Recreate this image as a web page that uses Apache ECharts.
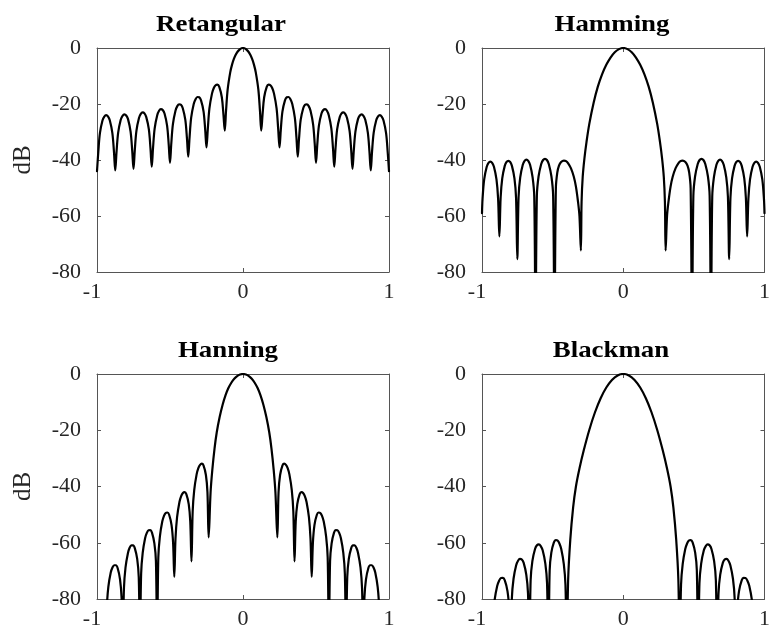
<!DOCTYPE html>
<html>
<head>
<meta charset="utf-8">
<script src="https://cdn.jsdelivr.net/npm/echarts@6/dist/echarts.min.js"></script>
<style>
html,body{margin:0;padding:0;background:#fff;}
#chart{width:773px;height:634px;}
</style>
</head>
<body>
<div id="chart"></div>
<script>
// ---------- data (normalized frequency, dB) ----------
const titles = ['Retangular', 'Hamming', 'Hanning', 'Blackman'];

const rectX = [
-1, -0.99125, -0.98, -0.9625, -0.95, -0.9375, -0.925, -0.9125, -0.895, -0.88375,
-0.875, -0.86625, -0.855, -0.8375, -0.825, -0.8125, -0.8, -0.7875, -0.77, -0.75875,
-0.75, -0.74125, -0.73, -0.7125, -0.7, -0.6875, -0.675, -0.6625, -0.645, -0.63375,
-0.625, -0.61625, -0.605, -0.5875, -0.575, -0.5625, -0.55, -0.5375, -0.52, -0.50875,
-0.5, -0.49125, -0.48, -0.4625, -0.45, -0.4375, -0.425, -0.4125, -0.395, -0.38375,
-0.375, -0.36625, -0.355, -0.3375, -0.325, -0.3125, -0.3, -0.2875, -0.27, -0.25875,
-0.25, -0.24125, -0.23, -0.2125, -0.2, -0.1875, -0.175, -0.1625, -0.145, -0.13375,
-0.125, -0.11625, -0.105, -0.0875, -0.075, -0.0625, -0.05, -0.0375, -0.02, -0.00875,
0,
0.00875, 0.02, 0.0375, 0.05, 0.0625, 0.075, 0.0875, 0.105, 0.11625,
0.125, 0.13375, 0.145, 0.1625, 0.175, 0.1875, 0.2, 0.2125, 0.23, 0.24125,
0.25, 0.25875, 0.27, 0.2875, 0.3, 0.3125, 0.325, 0.3375, 0.355, 0.36625,
0.375, 0.38375, 0.395, 0.4125, 0.425, 0.4375, 0.45, 0.4625, 0.48, 0.49125,
0.5, 0.50875, 0.52, 0.5375, 0.55, 0.5625, 0.575, 0.5875, 0.605, 0.61625,
0.625, 0.63375, 0.645, 0.6625, 0.675, 0.6875, 0.7, 0.7125, 0.73, 0.74125,
0.75, 0.75875, 0.77, 0.7875, 0.8, 0.8125, 0.825, 0.8375, 0.855, 0.86625,
0.875, 0.88375, 0.895, 0.9125, 0.925, 0.9375, 0.95, 0.9625, 0.98, 0.99125,
1];
const rectDb = [
-44.0, -37.3, -30.4, -25.9, -24.5, -24.0, -24.4, -25.8, -30.3, -37.1,
-43.7, -37.1, -30.2, -25.6, -24.2, -23.7, -24.1, -25.4, -29.9, -36.7,
-43.2, -36.6, -29.6, -25.0, -23.5, -23.0, -23.35, -24.7, -29.0, -35.8,
-42.4, -35.7, -28.7, -24.0, -22.4, -21.85, -22.15, -23.4, -27.7, -34.5,
-41.0, -34.2, -27.2, -22.4, -20.75, -20.1, -20.3, -21.5, -25.7, -32.4,
-38.8, -32.1, -24.9, -20.0, -18.3, -17.5, -17.6, -18.7, -22.7, -29.3,
-35.5, -29.1, -21.6, -16.3, -14.3, -13.3, -13.1, -13.9, -17.6, -23.9,
-29.5, -22.5, -14.8, -8.69, -5.94, -3.92, -2.42, -1.33, -0.37, -0.07,
0,
-0.07, -0.37, -1.33, -2.42, -3.92, -5.94, -8.69, -14.8, -22.5,
-29.5, -23.9, -17.6, -13.9, -13.1, -13.3, -14.3, -16.3, -21.6, -29.1,
-35.5, -29.3, -22.7, -18.7, -17.6, -17.5, -18.3, -20.0, -24.9, -32.1,
-38.8, -32.4, -25.7, -21.5, -20.3, -20.1, -20.75, -22.4, -27.2, -34.2,
-41.0, -34.5, -27.7, -23.4, -22.15, -21.85, -22.4, -24.0, -28.7, -35.7,
-42.4, -35.8, -29.0, -24.7, -23.35, -23.0, -23.5, -25.0, -29.6, -36.6,
-43.2, -36.7, -29.9, -25.4, -24.1, -23.7, -24.2, -25.6, -30.2, -37.1,
-43.7, -37.1, -30.3, -25.8, -24.4, -24.0, -24.5, -25.9, -30.4, -37.3,
-44.0];

const hammingX = [
-1, -0.996, -0.9845, -0.9666, -0.9538, -0.941, -0.9282, -0.9154, -0.8975, -0.886,
-0.877, -0.8681, -0.8567, -0.8389, -0.8262, -0.8135, -0.8008, -0.7881, -0.7703, -0.7589,
-0.75, -0.741, -0.7294, -0.7113, -0.6984, -0.6855, -0.6726, -0.6597, -0.6417, -0.63,
-0.621, -0.6116, -0.5996, -0.5808, -0.5674, -0.554, -0.5406, -0.5272, -0.5084, -0.4964,
-0.487, -0.477, -0.467, -0.455, -0.44, -0.42, -0.405, -0.39, -0.37, -0.35, -0.335, -0.32, -0.31,
-0.3, -0.295, -0.287, -0.275, -0.26, -0.24, -0.21, -0.18, -0.15, -0.12, -0.09, -0.06, -0.03,
0,
0.03, 0.06, 0.09, 0.12, 0.15, 0.18, 0.21, 0.24, 0.26, 0.275, 0.287, 0.295, 0.3,
0.31, 0.32, 0.335, 0.35, 0.37, 0.39, 0.405, 0.42, 0.44, 0.455, 0.467, 0.477, 0.487,
0.4964, 0.5084, 0.5272, 0.5406, 0.554, 0.5674, 0.5808, 0.5996, 0.6116, 0.621,
0.63, 0.6417, 0.6597, 0.6726, 0.6855, 0.6984, 0.7113, 0.7294, 0.741, 0.75,
0.7589, 0.7703, 0.7881, 0.8008, 0.8135, 0.8262, 0.8389, 0.8567, 0.8681, 0.877,
0.886, 0.8975, 0.9154, 0.9282, 0.941, 0.9538, 0.9666, 0.9845, 0.996, 1];
const hammingDb = [
-59, -53.8, -46.9, -42.4, -41.0, -40.6, -41.0, -42.4, -46.9, -53.8,
-67.3, -53.5, -46.6, -42.1, -40.7, -40.3, -40.7, -42.1, -46.6, -53.5,
-75.4, -53.1, -46.2, -41.7, -40.3, -39.9, -40.3, -41.7, -46.2, -53.1,
-100, -52.8, -45.9, -41.4, -40.0, -39.6, -40.0, -41.4, -45.9, -52.8,
-100, -50, -44.5, -42.0, -40.7, -40.2, -40.4, -41.2, -43, -46, -49.5, -55, -60,
-72.3, -55, -46, -39.5, -33.5, -27.0, -19.6, -13.8, -9.4, -6.0, -3.4, -1.5, -0.4,
0,
-0.4, -1.5, -3.4, -6.0, -9.4, -13.8, -19.6, -27.0, -33.5, -39.5, -46, -55, -72.3,
-60, -55, -49.5, -46, -43, -41.2, -40.4, -40.2, -40.7, -42.0, -44.5, -50, -100,
-52.8, -45.9, -41.4, -40.0, -39.6, -40.0, -41.4, -45.9, -52.8, -100,
-53.1, -46.2, -41.7, -40.3, -39.9, -40.3, -41.7, -46.2, -53.1, -75.4,
-53.5, -46.6, -42.1, -40.7, -40.3, -40.7, -42.1, -46.6, -53.5, -67.3,
-53.8, -46.9, -42.4, -41.0, -40.6, -41.0, -42.4, -46.9, -53.8, -59];

const hanningX = [
-1, -0.9412,
-0.9329, -0.9223, -0.9059, -0.8941, -0.8823, -0.8706, -0.8588, -0.8423, -0.8317, -0.8235,
-0.8153, -0.8047, -0.7883, -0.7765, -0.7647, -0.753, -0.7412, -0.7247, -0.7141, -0.7059,
-0.6976, -0.687, -0.6706, -0.6588, -0.647, -0.6353, -0.6235, -0.607, -0.5964, -0.5882,
-0.58, -0.5694, -0.553, -0.5412, -0.5294, -0.5177, -0.5059, -0.4894, -0.4788, -0.4706,
-0.4623, -0.4517, -0.4353, -0.4235, -0.4117, -0.4, -0.3882, -0.3717, -0.3611, -0.3529,
-0.3447, -0.3341, -0.3177, -0.3059, -0.2941, -0.2824, -0.2706, -0.2541, -0.2435, -0.2353,
-0.222, -0.21, -0.195, -0.18, -0.16, -0.14, -0.12, -0.1, -0.08, -0.06, -0.04, -0.02,
0,
0.02, 0.04, 0.06, 0.08, 0.1, 0.12, 0.14, 0.16, 0.18, 0.195, 0.21, 0.222, 0.2353,
0.2435, 0.2541, 0.2706, 0.2824, 0.2941, 0.3059, 0.3177, 0.3341, 0.3447, 0.3529,
0.3611, 0.3717, 0.3882, 0.4, 0.4117, 0.4235, 0.4353, 0.4517, 0.4623, 0.4706,
0.4788, 0.4894, 0.5059, 0.5177, 0.5294, 0.5412, 0.553, 0.5694, 0.58, 0.5882,
0.5964, 0.607, 0.6235, 0.6353, 0.647, 0.6588, 0.6706, 0.687, 0.6976, 0.7059,
0.7141, 0.7247, 0.7412, 0.753, 0.7647, 0.7765, 0.7883, 0.8047, 0.8153, 0.8235,
0.8317, 0.8423, 0.8588, 0.8706, 0.8823, 0.8941, 0.9059, 0.9223, 0.9329, 0.9412,
1];
const hanningDb = [
-95, -95,
-82.9, -75.7, -70.6, -68.8, -68.0, -68.0, -69.0, -73.0, -79.5, -95,
-76.1, -68.8, -63.7, -61.8, -60.9, -60.9, -61.9, -65.7, -72.2, -95,
-70.9, -63.6, -58.4, -56.5, -55.55, -55.5, -56.4, -60.2, -66.6, -95,
-65.2, -57.8, -52.45, -50.45, -49.4, -49.25, -50.05, -53.7, -60.0, -72.1,
-58.5, -51.0, -45.5, -43.4, -42.3, -42.0, -42.7, -46.25, -52.5, -66.6,
-48.9, -41.3, -35.7, -33.5, -32.3, -31.9, -32.5, -35.9, -42.0, -58.1,
-42, -34, -26.5, -20.8, -15.3, -11.0, -7.6, -5.0, -3.1, -1.7, -0.75, -0.2,
0,
-0.2, -0.75, -1.7, -3.1, -5.0, -7.6, -11.0, -15.3, -20.8, -26.5, -34, -42, -58.1,
-42.0, -35.9, -32.5, -31.9, -32.3, -33.5, -35.7, -41.3, -48.9, -66.6,
-52.5, -46.25, -42.7, -42.0, -42.3, -43.4, -45.5, -51.0, -58.5, -72.1,
-60.0, -53.7, -50.05, -49.25, -49.4, -50.45, -52.45, -57.8, -65.2, -95,
-66.6, -60.2, -56.4, -55.5, -55.55, -56.5, -58.4, -63.6, -70.9, -95,
-72.2, -65.7, -61.9, -60.9, -60.9, -61.8, -63.7, -68.8, -76.1, -95,
-79.5, -73.0, -69.0, -68.0, -68.0, -68.8, -70.6, -75.7, -82.9, -95,
-95];

const blackmanX = [
-1, -0.933,
-0.9236, -0.9114, -0.8925, -0.879, -0.8655, -0.852, -0.8385, -0.8196, -0.8075, -0.798,
-0.7887, -0.7767, -0.7581, -0.7448, -0.7315, -0.7182, -0.7049, -0.6863, -0.6743, -0.665,
-0.6556, -0.6434, -0.6245, -0.611, -0.5975, -0.584, -0.5705, -0.5516, -0.5395, -0.53,
-0.5209, -0.5092, -0.491, -0.478, -0.465, -0.452, -0.439, -0.4208, -0.4091, -0.4,
-0.39, -0.375, -0.355, -0.335, -0.31, -0.28, -0.24, -0.2, -0.16, -0.12, -0.08, -0.04,
0,
0.04, 0.08, 0.12, 0.16, 0.2, 0.24, 0.28, 0.31, 0.335, 0.355, 0.375, 0.39, 0.4,
0.4091, 0.4208, 0.439, 0.452, 0.465, 0.478, 0.491, 0.5092, 0.5209, 0.53,
0.5395, 0.5516, 0.5705, 0.584, 0.5975, 0.611, 0.6245, 0.6434, 0.6556, 0.665,
0.6743, 0.6863, 0.7049, 0.7182, 0.7315, 0.7448, 0.7581, 0.7767, 0.7887, 0.798,
0.8075, 0.8196, 0.8385, 0.852, 0.8655, 0.879, 0.8925, 0.9114, 0.9236, 0.933,
1];
const blackmanDb = [
-100, -100,
-87.9, -80.6, -75.4, -73.5, -72.55, -72.5, -73.4, -77.2, -83.6, -100,
-79.8, -72.8, -68.0, -66.4, -65.73, -65.96, -67.15, -71.4, -78.0, -100,
-73.25, -66.5, -62.2, -60.9, -60.6, -61.2, -62.7, -67.4, -74.4, -100,
-69.8, -63.5, -59.85, -59.05, -59.2, -60.25, -62.25, -67.6, -75.0, -100,
-73, -59, -47.5, -40.0, -33.6, -27.2, -19.8, -13.6, -8.6, -4.8, -2.1, -0.5,
0,
-0.5, -2.1, -4.8, -8.6, -13.6, -19.8, -27.2, -33.6, -40.0, -47.5, -59, -73, -100,
-75.0, -67.6, -62.25, -60.25, -59.2, -59.05, -59.85, -63.5, -69.8, -100,
-74.4, -67.4, -62.7, -61.2, -60.6, -60.9, -62.2, -66.5, -73.25, -100,
-78.0, -71.4, -67.15, -65.96, -65.73, -66.4, -68.0, -72.8, -79.8, -100,
-83.6, -77.2, -73.4, -72.5, -72.55, -73.5, -75.4, -80.6, -87.9, -100,
-100];

// ---------- layout / style ----------
const FONT = '"Liberation Serif", "Times New Roman", serif';
const TXT = '#262626';
const FRAME = '#555555';

const panelX = [rectX, hammingX, hanningX, blackmanX];
const panelY = [rectDb, hammingDb, hanningDb, blackmanDb];
const gridBoxes = [
  {left: 97, top: 48, width: 292, height: 224},
  {left: 482, top: 48, width: 292, height: 224},
  {left: 97, top: 374, width: 292, height: 225},
  {left: 482, top: 374, width: 292, height: 225}
];
const titlePos = [[221, 24.5], [612, 24.5], [228, 351], [611, 351]];

const grid = [], xAxis = [], yAxis = [], series = [], graphic = [];
for (let i = 0; i < 4; i++) {
  grid.push(Object.assign({containLabel: false}, gridBoxes[i]));
  const tick = {show: true, inside: true, length: 4, lineStyle: {color: FRAME, width: 1}};
  const line = {show: true, onZero: false, lineStyle: {color: FRAME, width: 1}};
  const baseX = {type: 'value', gridIndex: i, min: -1, max: 1, interval: 1,
    splitLine: {show: false}, axisLine: line, axisTick: tick};
  xAxis.push(Object.assign({}, baseX, {position: 'bottom',
    axisLabel: {show: true, fontFamily: FONT, fontSize: 22, color: TXT, margin: 9,
      formatter: v => (v === -1 ? '{m|-1}' : String(v)),
      rich: {m: {fontFamily: FONT, fontSize: 22, color: TXT, padding: [0, 10, 0, 0]}}}}));
  xAxis.push(Object.assign({}, baseX, {position: 'top', axisLabel: {show: false}}));
  const baseY = {type: 'value', gridIndex: i, min: -80, max: 0, interval: 20,
    splitLine: {show: false}, axisLine: line, axisTick: tick};
  const left = Object.assign({}, baseY, {position: 'left',
    axisLabel: {show: true, fontFamily: FONT, fontSize: 22, color: TXT, margin: 16}});
  if (i === 0 || i === 2) {
    left.name = 'dB';
    left.nameLocation = 'middle';
    left.nameRotate = 90;
    left.nameGap = 61;
    left.nameTextStyle = {fontFamily: FONT, fontSize: 25, color: TXT};
  }
  yAxis.push(left);
  yAxis.push(Object.assign({}, baseY, {position: 'right', axisLabel: {show: false}}));
  series.push({
    type: 'line', xAxisIndex: 2 * i, yAxisIndex: 2 * i,
    data: panelX[i].map((x, k) => [x, panelY[i][k]]),
    symbol: 'none', showSymbol: false, smooth: 0.35, clip: true,
    lineStyle: {color: '#000', width: 2.2, join: 'round', cap: 'round'},
    silent: true
  });
  graphic.push({
    type: 'text', x: titlePos[i][0], y: titlePos[i][1], scaleX: 1.12,
    style: {text: titles[i], font: 'bold 24px ' + FONT, fill: '#000',
      textAlign: 'center', textVerticalAlign: 'middle'}
  });
}

const chart = echarts.init(document.getElementById('chart'), null, {renderer: 'canvas'});
chart.setOption({
  animation: false,
  backgroundColor: '#ffffff',
  grid: grid, xAxis: xAxis, yAxis: yAxis, series: series, graphic: graphic
});
</script>
</body>
</html>
